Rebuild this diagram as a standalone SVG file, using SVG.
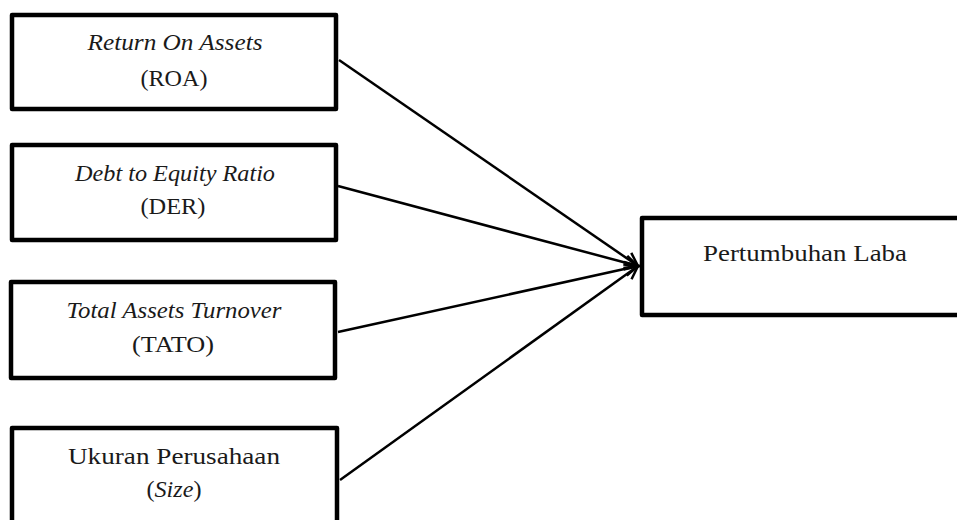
<svg xmlns="http://www.w3.org/2000/svg" width="957" height="520" viewBox="0 0 957 520">
<style>
.box{fill:#fff;stroke:#000;stroke-width:4.5;stroke-linejoin:round}
.t{font-family:"Liberation Serif","Times New Roman",serif;font-size:23px;fill:#1a1a1a;text-anchor:middle}
.i{font-style:italic}
.c{stroke:#000;stroke-width:2.5;fill:none}
</style>
<defs>
<marker id="ah" markerUnits="userSpaceOnUse" markerWidth="20" markerHeight="20" refX="14" refY="8" orient="auto" viewBox="0 0 20 16">
<path d="M1,1 L14,8 L1,15" fill="none" stroke="#000" stroke-width="2.5"/>
</marker>
</defs>
<rect width="957" height="520" fill="#fff"/>
<g id="roa">
<rect class="box" x="12" y="15" width="324" height="94"/>
<text class="t i" x="175" y="50" textLength="175" lengthAdjust="spacingAndGlyphs">Return On Assets</text>
<text class="t" x="174" y="86" textLength="67" lengthAdjust="spacingAndGlyphs">(ROA)</text>
</g>
<g id="der">
<rect class="box" x="12" y="145" width="324" height="95"/>
<text class="t i" x="175" y="181" textLength="200" lengthAdjust="spacingAndGlyphs">Debt to Equity Ratio</text>
<text class="t" x="173" y="214" textLength="65" lengthAdjust="spacingAndGlyphs">(DER)</text>
</g>
<g id="tato">
<rect class="box" x="11" y="282" width="324" height="96"/>
<text class="t i" x="174" y="318" textLength="215" lengthAdjust="spacingAndGlyphs">Total Assets Turnover</text>
<text class="t" x="173" y="352" textLength="82" lengthAdjust="spacingAndGlyphs">(TATO)</text>
</g>
<g id="size">
<rect class="box" x="12" y="428" width="325" height="110"/>
<text class="t" x="174" y="464" textLength="212" lengthAdjust="spacingAndGlyphs">Ukuran Perusahaan</text>
<text class="t" x="174" y="497" textLength="55" lengthAdjust="spacingAndGlyphs">(<tspan class="i">Size</tspan>)</text>
</g>
<g id="laba">
<rect class="box" x="642" y="218" width="340" height="97"/>
<text class="t" x="805" y="261" textLength="204" lengthAdjust="spacingAndGlyphs">Pertumbuhan Laba</text>
</g>
<g id="connectors">
<line class="c" x1="339" y1="60" x2="638" y2="266" marker-end="url(#ah)"/>
<line class="c" x1="338" y1="186" x2="638" y2="266" marker-end="url(#ah)"/>
<line class="c" x1="338" y1="332" x2="638" y2="266" marker-end="url(#ah)"/>
<line class="c" x1="340" y1="480" x2="638" y2="266" marker-end="url(#ah)"/>
</g>
</svg>
